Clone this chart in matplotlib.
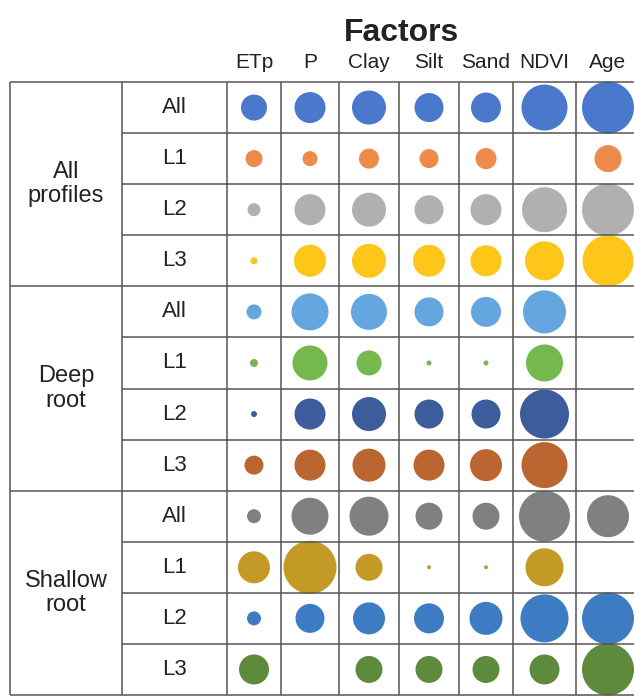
import matplotlib.pyplot as plt
from matplotlib.patches import Circle

plt.rcParams['font.family'] = ['Liberation Sans', 'DejaVu Sans']

# factors (columns) and the grouped rows
factors = ["ETp", "P", "Clay", "Silt", "Sand", "NDVI", "Age"]
groups = ["All\nprofiles", "Deep\nroot", "Shallow\nroot"]
layers = ["All", "L1", "L2", "L3"]

# importance of each factor, drawn as circle diameter (0 = not selected)
all_profiles = [
    [26, 31, 34, 29, 30, 46, 52],
    [17, 15, 20, 19, 21, 0, 27],
    [13, 31, 34, 29, 31, 45, 52],
    [7, 32, 34, 32, 31, 39, 51],
]
deep_root = [
    [15, 37, 36, 29, 30, 43, 0],
    [8, 35, 25, 5, 5, 37, 0],
    [6, 31, 34, 29, 29, 49, 0],
    [19, 31, 33, 31, 32, 46, 0],
]
shallow_root = [
    [14, 37, 39, 27, 27, 51, 42],
    [32, 53, 27, 4, 4, 38, 0],
    [14, 29, 32, 30, 33, 48, 52],
    [30, 0, 27, 27, 27, 30, 52],
]
group_values = [all_profiles, deep_root, shallow_root]

group_colors = [
    ["#4a78cc", "#ee8a4a", "#b0b0b0", "#ffc61a"],
    ["#64a6e0", "#74b84e", "#3d5c9c", "#bb6630"],
    ["#808080", "#c49a26", "#3d7cc2", "#5e8a3c"],
]

W, H = 634, 697
fig = plt.figure(figsize=(W / 100, H / 100), dpi=100)
ax = fig.add_axes([0, 0, 1, 1])
ax.set_xlim(0, W)
ax.set_ylim(H, 0)
ax.set_aspect("equal")
ax.axis("off")

# table geometry in pixels
col_edges = [10, 122, 227, 281, 339, 399, 459, 513, 576, 640]
top, bottom = 82, 695
n_rows = len(groups) * len(layers)
row_h = (bottom - top) / n_rows
line_kw = dict(color="#555555", lw=1.1, solid_capstyle="butt")

# vertical lines
for x in col_edges[:-1]:
    ax.plot([x, x], [top, bottom], **line_kw)
# horizontal lines
ax.plot([col_edges[0], W], [top, top], **line_kw)
for r in range(1, n_rows + 1):
    y = top + r * row_h
    x0 = col_edges[0] if r % len(layers) == 0 else col_edges[1]
    ax.plot([x0, W], [y, y], **line_kw)

# header
fac_centers = [(col_edges[i] + col_edges[i + 1]) / 2 for i in range(2, 9)]
ax.text(401, 33, "Factors", ha="center", va="center", fontsize=23,
        fontweight="bold", color="#222222")
for xc, name in zip(fac_centers, factors):
    ax.text(xc, 62, name, ha="center", va="center", fontsize=15, color="#222222")

# rows
for g, (gname, vals, cols) in enumerate(zip(groups, group_values, group_colors)):
    g_top = top + g * len(layers) * row_h
    ax.text((col_edges[0] + col_edges[1]) / 2, g_top + 2 * row_h, gname,
            ha="center", va="center", fontsize=17, color="#222222",
            linespacing=1.15)
    for i, (lname, row, c) in enumerate(zip(layers, vals, cols)):
        yc = g_top + (i + 0.5) * row_h
        ax.text((col_edges[1] + col_edges[2]) / 2, yc, lname, ha="center",
                va="center", fontsize=16, color="#222222")
        for xc, d in zip(fac_centers, row):
            if d > 0:
                ax.add_patch(Circle((xc, yc), d / 2, facecolor=c,
                                    edgecolor="none"))

fig.savefig("out.png", dpi=100, facecolor="white")
